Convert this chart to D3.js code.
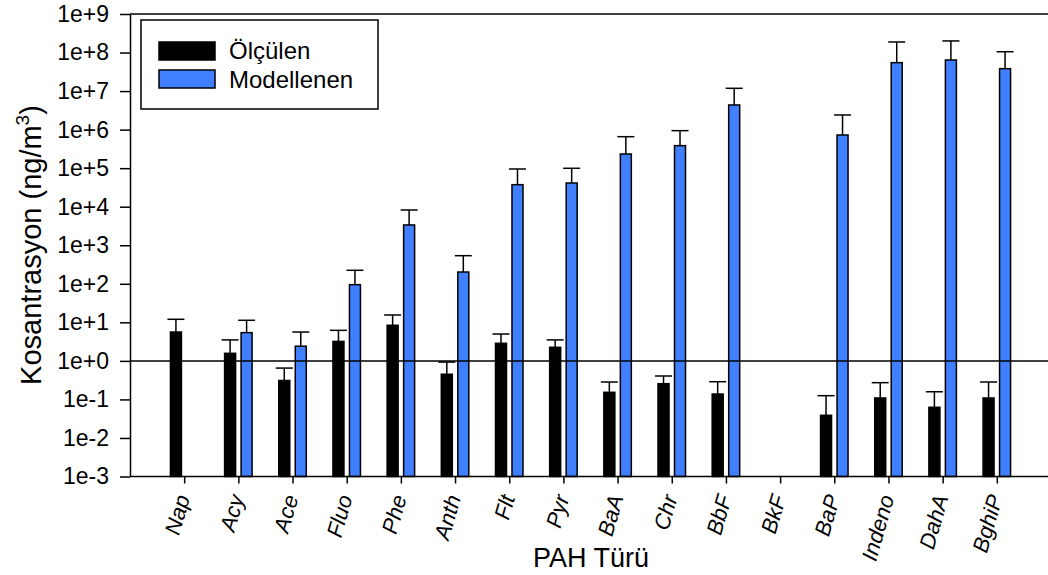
<!DOCTYPE html>
<html>
<head>
<meta charset="utf-8">
<script src="https://cdn.jsdelivr.net/npm/d3@7"></script>
<style>
  body { margin: 0; background: #fff; }
  svg { display: block; font-family: "Liberation Sans", Arial, sans-serif; }
</style>
</head>
<body>
<div id="chart"></div>
<script>
// PAH türleri
const categories = ["Nap", "Acy", "Ace", "Fluo", "Phe", "Anth", "Flt", "Pyr", "BaA", "Chr", "BbF", "BkF", "BaP", "Indeno", "DahA", "BghiP"];

// Ölçülen (ng/m3) ve hata çubuğu üst değeri
const measured      = [5.6, 1.57, 0.31, 3.2, 8.4, 0.45, 2.86, 2.25, 0.153, 0.256, 0.138, null, 0.0387, 0.109, 0.0625, 0.109];
const measuredUpper = [12, 3.5, 0.65, 6.2, 15.5, 0.93, 4.98, 3.5, 0.283, 0.405, 0.288, null, 0.125, 0.272, 0.158, 0.283];

// Modellenen (ng/m3) ve hata çubuğu üst değeri
const modeled      = [null, 5.4, 2.4, 95, 3360, 202, 37300, 41200, 233000, 384000, 4.36e6, null, 7.26e5, 5.46e7, 6.41e7, 3.82e7];
const modeledUpper = [null, 11.3, 5.6, 224, 8220, 536, 95200, 99300, 656000, 940000, 1.18e7, null, 2.4e6, 1.88e8, 2.0e8, 1.05e8];

const yTicks = [1e-3, 1e-2, 1e-1, 1e0, 1e1, 1e2, 1e3, 1e4, 1e5, 1e6, 1e7, 1e8, 1e9];

const series = [
  { name: "Ölçülen", key: "m", values: measured, upper: measuredUpper, color: "#000000" },
  { name: "Modellenen", key: "p", values: modeled, upper: modeledUpper, color: "#4080ff" }
];

const W = 1048, H = 575;
const plot = { left: 130, right: 1051, top: 14, bottom: 476.5 };

const svg = d3.select("#chart")
  .append("svg")
  .attr("width", W)
  .attr("height", H);

const x = d3.scalePoint()
  .domain(categories)
  .range([plot.left, plot.right])
  .padding(1);

const xSub = d3.scaleBand()
  .domain(series.map(s => s.key))
  .range([-13.75, 13.75])
  .paddingInner(1 / 3);

const y = d3.scaleLog()
  .domain([1e-3, 1e9])
  .range([plot.bottom, plot.top]);

function fmtExp(v) {
  const e = Math.round(Math.log10(v));
  return "1e" + (e < 0 ? "-" : "+") + Math.abs(e);
}

// Çerçeve üst çizgisi
svg.append("line")
  .attr("x1", plot.left).attr("x2", plot.right)
  .attr("y1", plot.top).attr("y2", plot.top)
  .attr("stroke", "#000").attr("stroke-width", 1.5);

// Çubuklar
series.forEach(s => {
  const rows = categories
    .map((c, i) => ({ cat: c, v: s.values[i], up: s.upper[i] }))
    .filter(d => d.v != null);

  const g = svg.append("g");

  g.selectAll("rect")
    .data(rows)
    .enter()
    .append("rect")
    .attr("x", d => x(d.cat) + xSub(s.key))
    .attr("y", d => y(d.v))
    .attr("width", xSub.bandwidth())
    .attr("height", d => y(1e-3) - y(d.v))
    .attr("fill", s.color)
    .attr("stroke", "#000")
    .attr("stroke-width", 1.5);

  // Hata çubukları (yalnız üst)
  const cx = d => x(d.cat) + xSub(s.key) + xSub.bandwidth() / 2;
  g.selectAll("line.err")
    .data(rows)
    .enter()
    .append("line")
    .attr("class", "err")
    .attr("x1", cx).attr("x2", cx)
    .attr("y1", d => y(d.v)).attr("y2", d => y(d.up))
    .attr("stroke", "#000").attr("stroke-width", 1.5);

  g.selectAll("line.cap")
    .data(rows)
    .enter()
    .append("line")
    .attr("class", "cap")
    .attr("x1", d => cx(d) - 8.5).attr("x2", d => cx(d) + 8.5)
    .attr("y1", d => y(d.up)).attr("y2", d => y(d.up))
    .attr("stroke", "#000").attr("stroke-width", 1.5);
});

// 1e+0 referans çizgisi
svg.append("line")
  .attr("x1", plot.left).attr("x2", plot.right)
  .attr("y1", y(1)).attr("y2", y(1))
  .attr("stroke", "#000").attr("stroke-width", 1.5);

// Y ekseni
const yAxis = svg.append("g")
  .attr("transform", `translate(${plot.left},0)`)
  .call(d3.axisLeft(y).tickValues(yTicks).tickFormat(fmtExp).tickSize(10).tickPadding(11).tickSizeOuter(0));
yAxis.select(".domain").attr("stroke-width", 1.5);
yAxis.selectAll(".tick line").attr("stroke-width", 1.5);
yAxis.selectAll("text")
  .attr("font-size", "23px")
  .attr("font-family", "Liberation Sans, Arial, sans-serif")
  .attr("fill", "#000");

// X ekseni
const xAxis = svg.append("g")
  .attr("transform", `translate(0,${plot.bottom})`)
  .call(d3.axisBottom(x).tickSize(7).tickSizeOuter(0).tickFormat(""));
xAxis.select(".domain").attr("d", `M${plot.left},0H${plot.right}`).attr("stroke-width", 1.5);
xAxis.selectAll(".tick line").attr("stroke-width", 1.5);

svg.append("g")
  .selectAll("text")
  .data(categories)
  .enter()
  .append("text")
  .attr("transform", d => `translate(${x(d) + 6},${plot.bottom + 21}) rotate(-74)`)
  .attr("text-anchor", "end")
  .attr("font-size", "22px")
  .attr("font-style", "italic")
  .attr("fill", "#000")
  .text(d => d);

// Eksen başlıkları
svg.append("text")
  .attr("x", 591)
  .attr("y", 567)
  .attr("text-anchor", "middle")
  .attr("font-size", "27px")
  .attr("fill", "#000")
  .text("PAH Türü");

const yt = svg.append("text")
  .attr("transform", `translate(41,245) rotate(-90)`)
  .attr("text-anchor", "middle")
  .attr("font-size", "29px")
  .attr("fill", "#000");
yt.append("tspan").text("Kosantrasyon (ng/m");
yt.append("tspan").attr("font-size", "19px").attr("dy", "-12").text("3");
yt.append("tspan").attr("dy", "12").text(")");

// Lejant
const legend = svg.append("g");
legend.append("rect")
  .attr("x", 141).attr("y", 20)
  .attr("width", 237).attr("height", 89)
  .attr("fill", "#fff")
  .attr("stroke", "#000").attr("stroke-width", 1.5);

series.forEach((s, i) => {
  legend.append("rect")
    .attr("x", 159).attr("y", 42 + i * 28)
    .attr("width", 56).attr("height", 18)
    .attr("fill", s.color)
    .attr("stroke", "#000").attr("stroke-width", 1.5);
  legend.append("text")
    .attr("x", 229).attr("y", 59 + i * 28.5)
    .attr("font-size", "24px")
    .attr("fill", "#000")
    .text(s.name);
});
</script>
</body>
</html>
